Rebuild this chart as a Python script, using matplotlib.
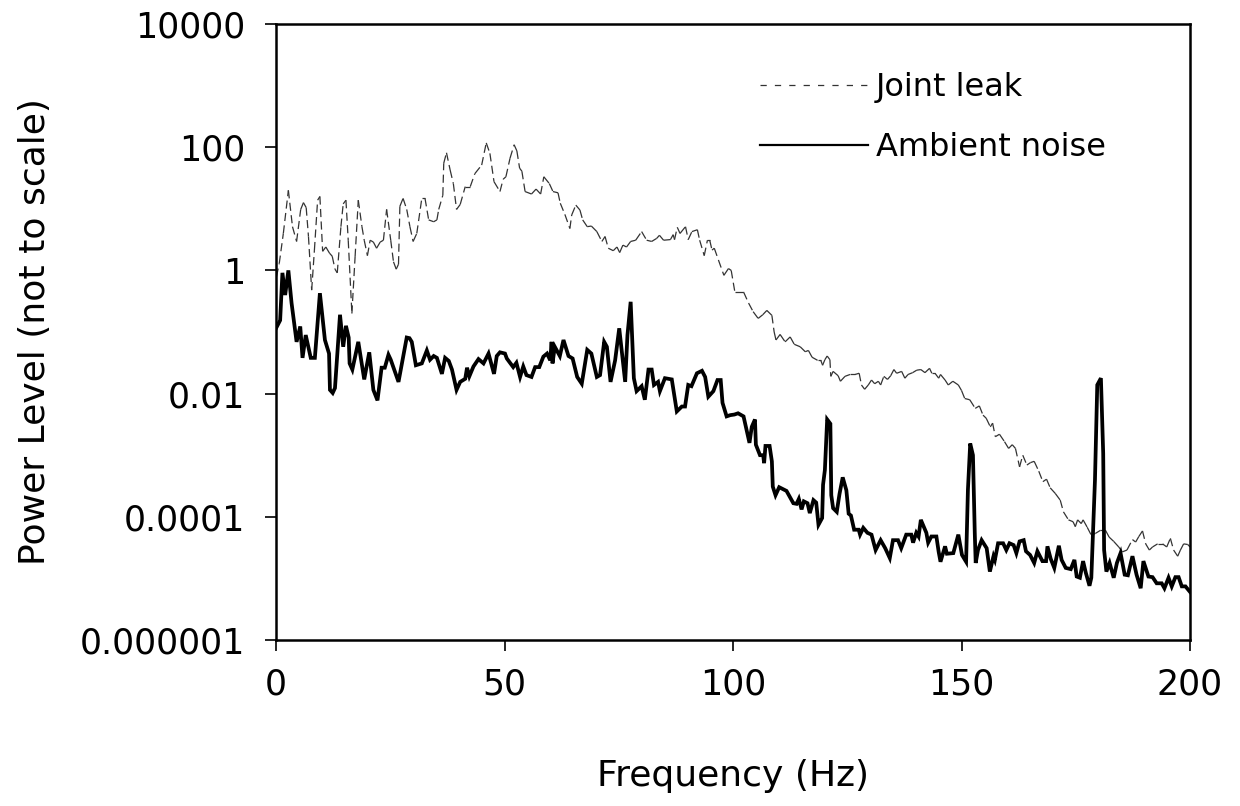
import matplotlib
matplotlib.use("Agg")
import matplotlib.pyplot as plt
import numpy as np
from matplotlib.collections import LineCollection
from matplotlib.lines import Line2D

# ---- data (frequency in Hz, log10 of power level) ----
ambient_freq = [0, 0.9, 1.4, 2.0, 2.7, 3.4, 4.5, 5.3, 5.8, 6.5, 7.6, 8.5, 9.6, 10.7, 11.6, 11.8, 12.4, 12.9,
                14.0, 14.7, 15.3, 15.9, 16.1, 16.7, 18.0, 19.3, 20.4, 21.3, 22.2, 23.1, 23.8, 24.6, 25.1, 26.8,
                27.7, 28.6, 29.2, 29.7, 30.6, 31.9, 33.0, 33.7, 34.5, 35.2, 36.3, 37.0, 37.8, 38.5, 39.5, 40.3,
                41.4, 41.8, 42.3, 43.2, 44.3, 45.4, 46.5, 47.7, 48.3, 49.0, 50.1, 50.5, 51.9, 52.6, 53.4, 54.1,
                54.8, 55.9, 56.7, 57.6, 58.5, 59.3, 60.0, 60.3, 60.5, 61.0, 62.1, 62.9, 64.0, 64.9, 65.9, 66.9,
                68.1, 69.0, 70.2, 70.9, 71.8, 72.4, 73.2, 74.2, 75.1, 76.4, 76.9, 77.6, 78.3, 78.9, 80.0, 80.7,
                81.5, 82.2, 82.7, 83.6, 84.0, 85.1, 86.6, 87.7, 88.8, 89.5, 90.2, 90.9, 92.1, 93.2, 93.9, 94.6,
                95.7, 96.6, 97.3, 97.7, 98.6, 99.4, 100.3, 101.1, 102.3, 103.6, 104.1, 104.8, 105.0, 105.9,
                106.6, 106.8, 107.1, 108.0, 108.5, 108.7, 109.3, 110.1, 111.7, 113.2, 113.9, 114.4, 115.0,
                115.5, 116.3, 116.8, 117.6, 118.2, 118.7, 119.5, 119.7, 120.1, 120.6, 121.3, 121.5, 121.9,
                122.7, 123.3, 124.0, 124.8, 125.3, 125.8, 126.5, 127.5, 127.8, 128.5, 129.4, 130.3, 131.2,
                132.3, 133.3, 134.3, 135.0, 136.1, 136.8, 137.9, 139.0, 139.4, 140.1, 140.6, 141.1, 142.3,
                142.7, 143.4, 144.5, 145.0, 145.4, 146.4, 146.8, 148.2, 149.3, 150.1, 151.0, 151.4, 151.9,
                152.5, 152.9, 153.1, 153.6, 154.4, 155.5, 156.2, 157.0, 157.3, 158.0, 159.1, 159.8, 160.5,
                161.4, 162.0, 162.7, 163.6, 164.1, 165.0, 165.9, 166.6, 167.7, 168.5, 168.8, 169.5, 170.3,
                171.3, 171.9, 172.8, 173.9, 174.7, 175.2, 175.9, 176.6, 177.2, 178.0, 178.4, 179.2, 179.7,
                180.5, 181.0, 181.2, 181.7, 182.4, 183.3, 184.0, 184.8, 185.7, 186.4, 187.4, 188.3, 189.2,
                189.8, 190.9, 191.8, 192.7, 193.8, 194.4, 195.3, 196.0, 196.8, 197.5, 198.2, 199.0, 200.0]
ambient_log = [-0.94, -0.81, -0.04, -0.40, 0.00, -0.53, -1.16, -0.91, -1.42, -1.05, -1.42, -1.42, -0.37, -1.13,
               -1.35, -1.94, -1.99, -1.91, -0.72, -1.24, -0.90, -1.09, -1.51, -1.61, -1.16, -1.77, -1.33, -1.94,
               -2.11, -1.58, -1.58, -1.37, -1.45, -1.81, -1.45, -1.09, -1.10, -1.16, -1.54, -1.51, -1.30, -1.45,
               -1.39, -1.42, -1.68, -1.42, -1.47, -1.61, -1.94, -1.81, -1.76, -1.58, -1.72, -1.56, -1.44, -1.51,
               -1.35, -1.68, -1.39, -1.33, -1.35, -1.43, -1.57, -1.50, -1.73, -1.56, -1.70, -1.73, -1.57, -1.57,
               -1.40, -1.35, -1.46, -1.16, -1.51, -1.24, -1.39, -1.13, -1.39, -1.43, -1.73, -1.84, -1.29, -1.35,
               -1.73, -1.70, -1.16, -1.24, -1.81, -1.46, -0.94, -1.81, -1.05, -0.51, -1.75, -1.96, -1.88, -2.10,
               -1.61, -1.61, -1.86, -1.81, -1.96, -1.75, -1.77, -2.29, -2.21, -2.21, -1.86, -1.88, -1.67, -1.63,
               -1.73, -2.05, -1.96, -1.78, -1.78, -2.15, -2.37, -2.35, -2.34, -2.32, -2.37, -2.80, -2.54, -2.42,
               -2.83, -3.00, -3.00, -3.13, -2.85, -2.85, -3.10, -3.51, -3.65, -3.52, -3.58, -3.78, -3.79, -3.71,
               -3.88, -3.75, -3.78, -3.94, -3.73, -3.77, -4.13, -4.02, -3.48, -3.24, -2.42, -2.49, -3.65, -3.86,
               -3.92, -3.63, -3.36, -3.57, -3.95, -3.98, -4.21, -4.21, -4.29, -4.18, -4.26, -4.29, -4.54, -4.38,
               -4.51, -4.67, -4.38, -4.38, -4.51, -4.29, -4.29, -4.42, -4.26, -4.32, -4.05, -4.26, -4.42, -4.32,
               -4.32, -4.57, -4.73, -4.48, -4.60, -4.59, -4.29, -4.62, -4.73, -3.56, -2.81, -3.00, -4.27, -4.75,
               -4.54, -4.38, -4.51, -4.89, -4.64, -4.70, -4.43, -4.43, -4.54, -4.43, -4.46, -4.59, -4.40, -4.38,
               -4.56, -4.62, -4.75, -4.56, -4.72, -4.72, -4.48, -4.68, -4.83, -4.47, -4.70, -4.83, -4.85, -4.70,
               -4.97, -4.99, -4.72, -4.91, -5.12, -4.99, -3.40, -1.86, -1.75, -2.97, -4.54, -4.89, -4.75, -4.99,
               -4.75, -4.59, -4.94, -4.95, -4.64, -4.94, -5.16, -4.72, -4.97, -4.98, -5.08, -5.08, -5.16, -4.99,
               -5.13, -4.98, -4.98, -5.13, -5.13, -5.22]

leak_freq = [0.1, 0.7, 1.6, 2.7, 3.6, 4.5, 5.4, 6.0, 6.6, 7.1, 7.8, 8.4, 9.1, 9.6, 10.2, 10.9, 11.7, 12.3, 12.9,
             13.4, 14.2, 14.7, 15.3, 15.8, 16.6, 17.3, 18.0, 18.8, 19.3, 20.0, 20.6, 21.3, 22.0, 22.8, 23.5,
             24.2, 25.1, 25.7, 26.3, 26.8, 27.1, 27.8, 28.6, 29.3, 30.0, 30.8, 31.9, 32.6, 33.4, 34.5, 35.2,
             35.6, 36.5, 36.7, 37.3, 38.1, 38.8, 39.5, 40.3, 41.4, 42.5, 43.5, 45.0, 46.0, 46.8, 47.7, 49.0,
             49.7, 50.3, 51.2, 52.1, 52.7, 53.3, 53.8, 54.5, 55.9, 56.9, 57.9, 58.6, 59.8, 60.6, 61.7, 62.2,
             63.2, 64.3, 64.7, 65.6, 66.5, 67.1, 68.1, 69.0, 70.2, 71.3, 72.0, 72.7, 73.8, 74.6, 75.2, 75.9,
             76.7, 77.6, 78.7, 80.0, 81.1, 82.2, 83.3, 83.9, 84.8, 86.3, 86.9, 87.2, 87.8, 88.4, 89.6, 90.2,
             91.0, 92.2, 92.7, 93.7, 94.4, 94.9, 95.4, 95.9, 96.8, 98.0, 99.0, 99.6, 100.4, 102.3, 103.4,
             104.4, 105.5, 106.5, 107.4, 108.5, 109.0, 109.4, 110.3, 111.4, 112.5, 113.4, 114.7, 115.8, 116.5,
             117.3, 118.5, 119.2, 119.6, 120.1, 120.6, 121.2, 121.4, 121.9, 123.0, 123.5, 124.5, 125.6, 126.7,
             127.6, 128.1, 128.8, 129.6, 130.3, 131.0, 131.8, 132.3, 133.0, 133.8, 134.5, 135.2, 135.8, 136.9,
             137.6, 138.3, 139.3, 140.2, 141.1, 142.0, 143.0, 143.5, 144.2, 145.0, 145.4, 146.4, 147.1, 148.1,
             149.3, 150.0, 150.7, 151.8, 153.0, 153.9, 154.7, 155.4, 156.3, 156.8, 157.4, 158.3, 159.4, 160.3,
             161.1, 161.8, 162.7, 163.4, 164.3, 165.1, 165.9, 166.9, 167.8, 168.6, 169.4, 170.5, 171.6, 172.3,
             173.4, 174.4, 174.9, 175.4, 176.2, 176.6, 177.5, 178.4, 179.3, 180.4, 181.5, 182.3, 183.3, 184.4,
             185.2, 186.2, 187.4, 188.1, 188.8, 189.6, 190.3, 191.1, 191.8, 192.9, 194.0, 194.9, 195.7, 196.4,
             197.3, 197.9, 198.6, 199.5, 200.0]
leak_log = [-0.10, 0.11, 0.60, 1.30, 0.71, 0.47, 0.99, 1.10, 1.02, 0.55, -0.32, 0.33, 1.14, 1.20, 0.31, 0.38,
            0.28, 0.23, 0.02, -0.04, 0.71, 1.08, 1.14, 0.49, -0.70, 0.22, 1.14, 0.71, 0.49, 0.24, 0.49, 0.46,
            0.36, 0.46, 0.49, 0.99, 0.49, 0.14, 0.02, 0.10, 1.04, 1.17, 0.99, 0.71, 0.47, 0.60, 1.17, 1.17,
            0.82, 0.79, 0.82, 0.99, 1.22, 1.74, 1.91, 1.63, 1.41, 0.99, 1.07, 1.36, 1.36, 1.57, 1.71, 2.07,
            1.90, 1.44, 1.28, 1.48, 1.52, 1.82, 2.04, 1.94, 1.66, 1.61, 1.28, 1.24, 1.32, 1.24, 1.52, 1.41,
            1.28, 1.26, 1.09, 0.91, 0.68, 0.90, 1.06, 0.98, 0.82, 0.71, 0.72, 0.63, 0.47, 0.55, 0.36, 0.32,
            0.38, 0.29, 0.41, 0.38, 0.47, 0.49, 0.63, 0.49, 0.47, 0.52, 0.57, 0.49, 0.50, 0.58, 0.50, 0.70,
            0.60, 0.71, 0.50, 0.63, 0.66, 0.49, 0.24, 0.49, 0.49, 0.33, 0.36, 0.17, -0.08, 0.03, 0.00, -0.35,
            -0.35, -0.53, -0.67, -0.78, -0.72, -0.65, -0.73, -1.00, -1.13, -1.04, -1.16, -1.08, -1.20, -1.24,
            -1.32, -1.30, -1.41, -1.46, -1.46, -1.54, -1.45, -1.39, -1.45, -1.72, -1.64, -1.71, -1.80, -1.72,
            -1.69, -1.69, -1.67, -1.86, -1.93, -1.86, -1.78, -1.84, -1.80, -1.86, -1.72, -1.77, -1.71, -1.61,
            -1.67, -1.64, -1.75, -1.69, -1.66, -1.62, -1.61, -1.66, -1.59, -1.67, -1.67, -1.75, -1.69, -1.78,
            -1.86, -1.80, -1.86, -1.95, -2.08, -2.10, -2.24, -2.20, -2.35, -2.40, -2.54, -2.48, -2.70, -2.66,
            -2.78, -2.89, -2.83, -2.89, -3.19, -3.00, -3.16, -3.12, -3.10, -3.26, -3.43, -3.39, -3.53, -3.62,
            -3.73, -3.92, -4.05, -4.08, -4.16, -4.05, -4.11, -4.05, -4.17, -4.30, -4.27, -4.22, -4.22, -4.33,
            -4.40, -4.49, -4.57, -4.54, -4.37, -4.41, -4.32, -4.23, -4.44, -4.54, -4.49, -4.44, -4.44, -4.49,
            -4.35, -4.54, -4.64, -4.54, -4.44, -4.45, -4.49]

y_ticks = [1e-6, 1e-4, 1e-2, 1, 1e2, 1e4]
y_tick_labels = ["0.000001", "0.0001", "0.01", "1", "100", "10000"]
x_ticks = [0, 50, 100, 150, 200]
series_names = ["Joint leak", "Ambient noise"]

plt.rcParams['font.family'] = ['DejaVu Sans']

fig = plt.figure(figsize=(12.4, 8.06), dpi=100)
ax = fig.add_axes([0.2226, 0.2060, 0.7371, 0.7642])
ax.set_yscale('log')

leak_color = '#333333'
lf = np.array(leak_freq)
lv = 10.0 ** np.array(leak_log)
segs = [[(lf[i], lv[i]), (lf[i + 1], lv[i + 1])] for i in range(len(lf) - 1)]
# each segment restarts its dash pattern, so short segments look solid
lc = LineCollection(segs, colors=leak_color, linewidths=0.9, linestyles=[(0, (6.5, 3.5))])
ax.add_collection(lc)

ax.plot(ambient_freq, 10.0 ** np.array(ambient_log), color='black', lw=2.7, solid_joinstyle='miter')

ax.set_xlim(0, 200)
ax.set_ylim(1e-6, 1e4)
ax.set_xticks(x_ticks)
ax.set_xticklabels([str(t) for t in x_ticks])
ax.set_yticks(y_ticks)
ax.set_yticklabels(y_tick_labels)
ax.yaxis.set_minor_locator(matplotlib.ticker.NullLocator())
ax.tick_params(axis='both', direction='out', length=8, width=1.2, labelsize=25, colors='black')
ax.tick_params(axis='y', pad=14)
ax.tick_params(axis='x', pad=12)
for s in ax.spines.values():
    s.set_linewidth(1.8)
    s.set_color('black')

ax.set_xlabel("Frequency (Hz)", fontsize=26, labelpad=41)
ax.set_ylabel("Power Level (not to scale)", fontsize=26, labelpad=20)

handles = [Line2D([], [], color=leak_color, lw=0.9, linestyle=(0, (5.0, 6.5))),
           Line2D([], [], color='black', lw=1.6)]
ax.legend(handles, series_names, loc='upper left', bbox_to_anchor=(0.529, 0.922), frameon=False,
          fontsize=23, handlelength=3.4, handletextpad=0.25, labelspacing=0.92, borderpad=0,
          borderaxespad=0)

fig.savefig("out.png", dpi=100)
